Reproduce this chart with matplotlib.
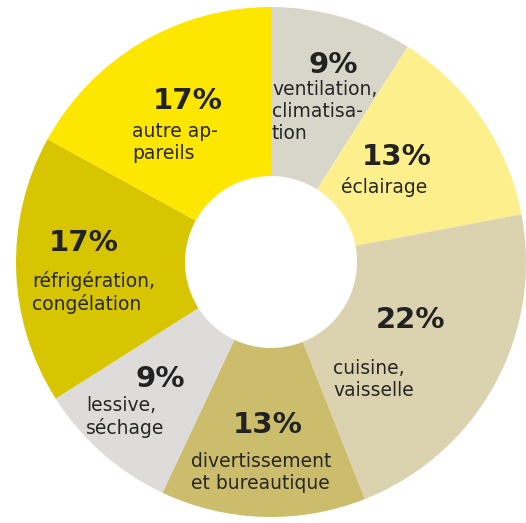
import matplotlib.pyplot as plt

# Consumption share per usage, clockwise from 12 o'clock
labels = ["ventilation,\nclimatisa-\ntion", "éclairage", "cuisine,\nvaisselle",
          "divertissement\net bureautique", "lessive,\nséchage",
          "réfrigération,\ncongélation", "autre ap-\npareils"]
shares = [9, 13, 22, 13, 9, 17, 17]
colors = ["#d8d5c9", "#fdf08c", "#dbd3b0", "#cbbd6c", "#dddcdb", "#d7c502", "#fde700"]

# where each percent / description is written (pixels, origin top-left)
pct_pos = [(333, 65), (397, 157), (410, 320), (268, 425), (160, 379), (84, 243), (188, 101)]
txt_pos = [(272, 80), (341, 177), (333, 359), (191, 452), (86, 396), (32, 271), (132, 122)]

W, H = 526, 523
fig = plt.figure(figsize=(W / 100, H / 100), dpi=100)
ax = fig.add_axes([0, 0, 1, 1])

cx, cy = 271, H - 262
R, r_in = 255, 86
ax.pie(shares, colors=colors, startangle=90, counterclock=False,
       center=(cx, cy), radius=R, frame=True,
       wedgeprops=dict(width=R - r_in, linewidth=0))
ax.set_xlim(0, W)
ax.set_ylim(0, H)
ax.set_aspect("equal")
ax.axis("off")

for i, lab in enumerate(labels):
    px, py = pct_pos[i]
    ax.text(px, H - py, f"{shares[i]}%", ha="center", va="center",
            fontsize=21, fontweight="bold", color="#222222", family="DejaVu Sans")
    tx, ty = txt_pos[i]
    ax.text(tx, H - ty, lab, ha="left", va="top", fontsize=13.5,
            color="#262626", family="DejaVu Sans", linespacing=1.2)

fig.savefig("out.png", dpi=100)
